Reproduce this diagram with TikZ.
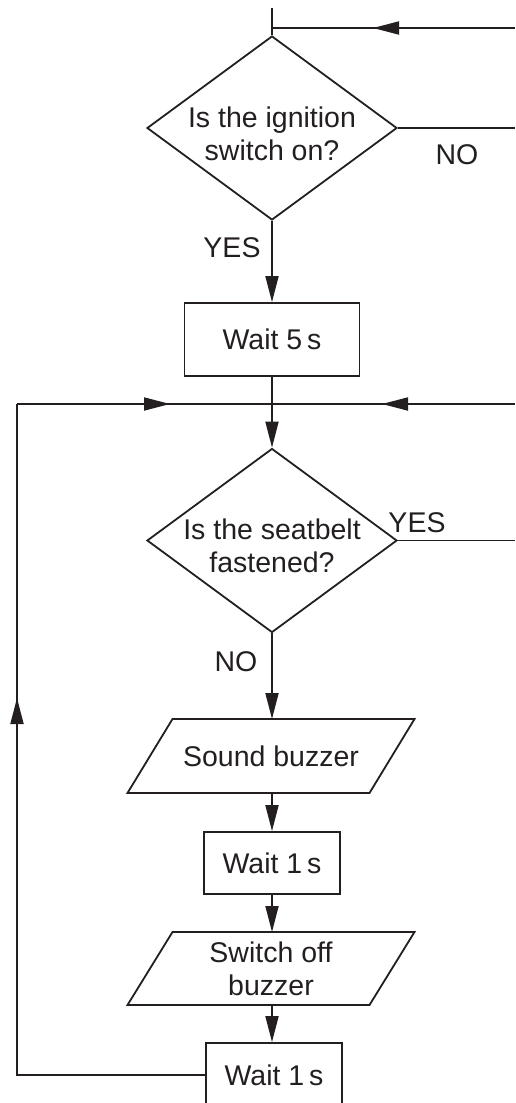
\documentclass[tikz,border=0pt]{standalone}
\usepackage{fontspec}
\setmainfont{Liberation Sans}
\usetikzlibrary{shapes.geometric,arrows.meta,calc}
\definecolor{ink}{RGB}{35,31,32}
\tikzset{
  flow/.style={line width=1.8pt, draw=ink},
  arr/.style={flow, -{Triangle[length=26pt,width=13pt]}},
  stepbox/.style={draw=ink, line width=1.8pt, rectangle, inner sep=0pt, align=center},
  decision/.style={draw=ink, line width=1.8pt, diamond, inner sep=0pt,
                   minimum width=250pt, minimum height=184pt},
  io/.style={inner sep=0pt, outer sep=0pt, minimum width=287pt, minimum height=74pt, align=center},
  lbl/.style={inner sep=0pt, align=center, text=ink},
  slant/.style={flow, line join=miter}
}
\begin{document}
\begin{tikzpicture}[x=1pt, y=-1pt, font=\fontsize{28.5pt}{33pt}\selectfont, text=ink]
  \useasboundingbox (0,0) rectangle (515,1103);
  \clip (0,0) rectangle (515,1103);

  % shapes
  \node[decision] (d1) at (272,128) {};
  \node[lbl] (d1t) at (272,134) {Is the ignition\\switch on?};
  \node[stepbox, minimum width=175pt, minimum height=73pt] (w5) at (272,339.5) {Wait 5\,s};
  \node[decision] (d2) at (272,540.5) {};
  \node[lbl] (d2t) at (272,546) {Is the seatbelt\\fastened?};
  \node[io] (pb1) at (271,756) {Sound buzzer};
  \node[stepbox, minimum width=136pt, minimum height=62pt] (w1a) at (272,863) {Wait 1\,s};
  \node[io, minimum height=73pt] (pb2) at (271,968.5) {Switch off\\buzzer};
  \node[stepbox, minimum width=136pt, minimum height=64pt] (w1b) at (274,1075) {Wait 1\,s};

  % parallelogram outlines of the input/output steps
  \foreach \p in {pb1,pb2}{
    \draw[slant] (\p.south west) -- ($(\p.north west)+(45,0)$) -- (\p.north east)
      -- ($(\p.south east)+(-45,0)$) -- cycle;
  }

  % branch labels
  \node[lbl] (no1) at (457,155) {NO};
  \node[lbl] (yes1) at (232,248) {YES};
  \node[lbl] (yes2) at (417,523) {YES};
  \node[lbl] (no2) at (236,662) {NO};

  % loose ends and junctions
  \coordinate (top) at (272,8);
  \coordinate (topJ) at (272,28);
  \coordinate (topR) at (515,28);
  \coordinate (noR) at (515,128);
  \coordinate (midL) at (17,404);
  \coordinate (midR) at (515,404);
  \coordinate (yesR) at (515,540.5);
  \coordinate (loopBL) at (17,1075);

  % connectors
  \draw[flow] (top) -- (d1.north);
  \draw[flow] (topR) -- (topJ);
  \draw[arr] ($(topJ)+(128,0)$) -- ($(topJ)+(101,0)$);
  \draw[flow] (d1.east) -- (noR);
  \draw[arr] (d1.south) -- (w5.north);
  \draw[arr] (w5.south) -- (d2.north);
  \draw[flow] (midL) -- (midR);
  \draw[arr] (140,404) -- (170,404);
  \draw[arr] (410,404) -- (382,404);
  \draw[flow] (d2.east) -- (yesR);
  \draw[arr] (d2.south) -- (d2.south |- pb1.north);
  \draw[arr] (d2.south |- pb1.south) -- (d2.south |- w1a.north);
  \draw[arr] (d2.south |- w1a.south) -- (d2.south |- pb2.north);
  \draw[arr] (d2.south |- pb2.south) -- (d2.south |- w1b.north);
  \draw[flow] (w1b.west) -- (loopBL) -- (midL);
  \draw[arr] (17,728) -- (17,698);
\end{tikzpicture}
\end{document}
